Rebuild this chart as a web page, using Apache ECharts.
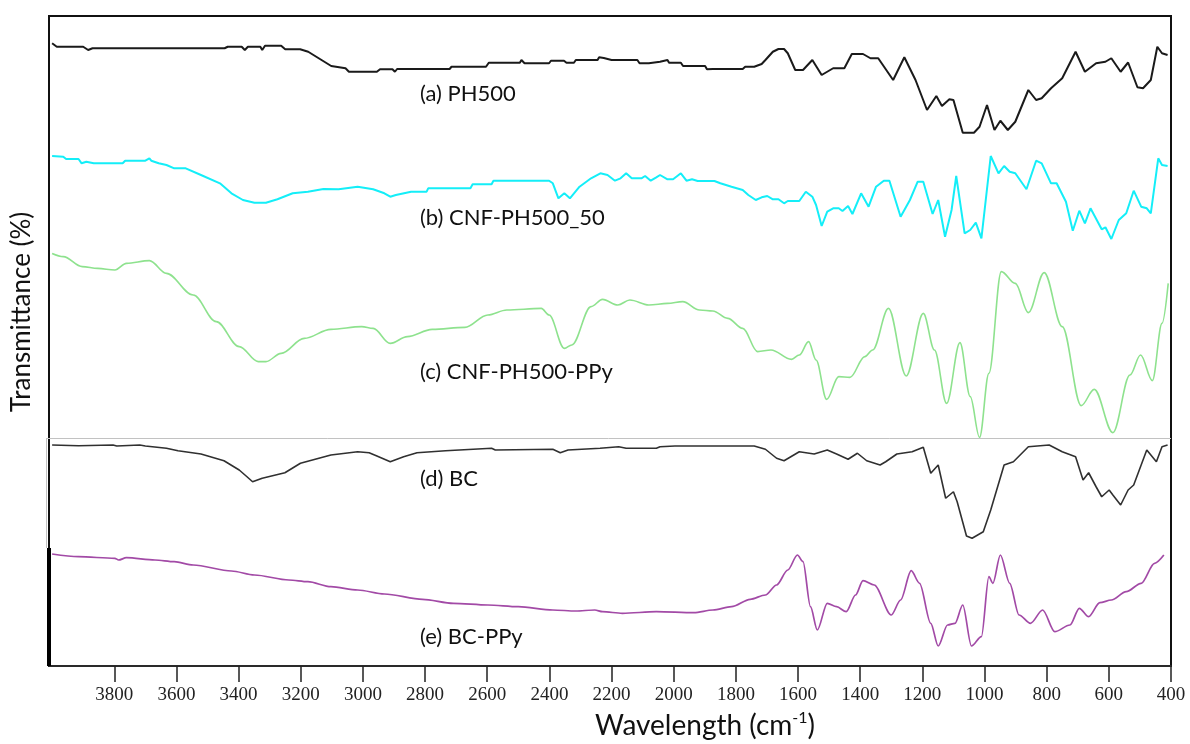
<!DOCTYPE html>
<html>
<head>
<meta charset="utf-8">
<script src="https://cdn.jsdelivr.net/npm/echarts@6/dist/echarts.min.js"></script>
<style>
  html, body { margin: 0; padding: 0; background: #ffffff; }
  #chart { width: 1190px; height: 744px; }
</style>
</head>
<body>
<div id="chart"></div>
<script>
// Wavenumber ticks shown on the bottom axis (cm-1)
const tickValues = [3800, 3600, 3400, 3200, 3000, 2800, 2600, 2400, 2200, 2000, 1800, 1600, 1400, 1200, 1000, 800, 600, 400];

// FTIR spectra: [wavenumber (cm-1), transmittance (%, per-trace scale)]
const ph500 = [[4000,89.4],[3985,86.6],[3900,86.6],[3884,84],[3870,85.4],[3445,85.4],[3435,86.6],[3390,86.6],[3380,84],[3370,86.6],[3330,86.6],[3324,84],[3315,87.4],[3263,87.4],[3250,84.6],[3202,84.6],[3176,82.6],[3102,71.2],[3056,69.4],[3045,66.6],[2955,66.6],[2945,68.6],[2905,68.6],[2897,66.6],[2890,68.8],[2721,68.8],[2715,70.6],[2604,70.6],[2595,73.8],[2495,73.8],[2490,76],[2480,73.4],[2401,73.4],[2395,75.4],[2353,75.4],[2345,73.8],[2321,73.8],[2315,76],[2245,76],[2240,78.2],[2225,77.6],[2200,76],[2117,76],[2110,73.4],[2080,73.4],[2075,74.6],[2044,74.6],[2040,76],[2020,76],[2015,73.8],[1977,73.8],[1970,71.2],[1899,71.2],[1893,68.6],[1874,68.8],[1778,68.8],[1770,70.6],[1741,70.6],[1717,72.8],[1705,76],[1681,82.6],[1663,84.8],[1645,84.8],[1633,81.4],[1609,68],[1584,68],[1578,66.6],[1554,76],[1524,64],[1487,69.4],[1451,69.4],[1427,80.8],[1391,80.8],[1367,77.4],[1342,77.4],[1294,60],[1258,78.2],[1222,60],[1185,36],[1155,47.2],[1137,39.2],[1113,44.6],[1100,44],[1070,17.8],[1034,17.8],[1016,22.6],[992,40],[968,20],[949,27.4],[925,20],[901,26.6],[859,52],[834,44],[816,45.4],[786,53.4],[750,61.4],[707,82.6],[677,66.6],[641,73.4],[611,74.6],[592,77.4],[562,66.6],[538,74],[508,54.2],[490,53.4],[465,60],[444,86.6],[429,81.4],[411,80]];

const cnfPh500 = [[4000,94],[3964,93.3],[3955,91],[3915,91],[3905,86.7],[3890,88.3],[3866,86.7],[3773,86.7],[3765,89.3],[3700,89.3],[3687,91.7],[3681,89.3],[3657,86.7],[3632,85],[3607,81.7],[3570,81.7],[3521,75],[3460,66.7],[3423,56.7],[3386,50],[3349,47.3],[3312,47.3],[3275,50.7],[3226,56.7],[3177,58.3],[3127,61],[3078,60.7],[3017,63.3],[2967,60.7],[2931,56.7],[2912,53.3],[2894,55],[2845,58.3],[2795,58.3],[2790,61.7],[2654,61.7],[2647,65.7],[2586,65.7],[2580,69.3],[2401,69.3],[2389,66.7],[2371,51.7],[2352,56.7],[2334,51.7],[2303,63.3],[2266,71.7],[2236,76.7],[2213,75],[2189,69.3],[2171,71.7],[2153,76.7],[2135,71.7],[2104,71.7],[2092,74],[2074,69.3],[2056,72.7],[2044,75],[2020,70.7],[2002,70.7],[1977,76.7],[1959,69.3],[1941,70.7],[1923,69],[1869,69],[1850,66.7],[1814,63.3],[1778,60],[1760,55],[1736,50],[1717,52.7],[1699,54],[1681,50.7],[1663,50.7],[1645,46.7],[1633,49],[1596,49],[1575,58.3],[1554,53.3],[1542,45],[1524,24],[1506,38.3],[1487,41.7],[1469,41.7],[1457,39],[1439,44],[1425,36],[1397,56.7],[1373,43.3],[1349,63.3],[1324,69.3],[1306,69.3],[1270,33.3],[1240,50],[1215,68.3],[1197,68.3],[1167,36],[1149,50],[1127,13.3],[1106,40],[1091,74],[1064,16.7],[1046,20],[1028,27.3],[1010,11.7],[980,94],[955,76.7],[937,84],[919,78.3],[901,76.7],[865,60.7],[834,89.3],[816,86.7],[786,66.7],[768,66.7],[738,48.3],[716,19.3],[695,39.3],[677,26.7],[659,41.7],[623,20.7],[611,22.7],[592,11],[568,30],[544,36.7],[520,59.3],[496,43.3],[478,41.7],[465,36.7],[441,91.7],[429,85],[411,84]];

const cnfPh500PPy = [[4000,98.3],[3964,96.7],[3903,91.7],[3853,90.8],[3798,90],[3761,93.3],[3687,94.7],[3632,88.3],[3546,77.5],[3472,64.2],[3398,51.7],[3337,44.2],[3312,44.2],[3263,48.3],[3189,55.8],[3103,60.3],[3004,61.7],[2967,60.8],[2912,53.3],[2857,56.7],[2777,60.3],[2672,61.3],[2598,67.5],[2537,70],[2426,70.8],[2401,67.5],[2352,50.8],[2328,52.5],[2266,71.7],[2229,75.3],[2180,72.5],[2141,75],[2080,72.5],[2020,73.3],[1971,74.2],[1917,70],[1874,69.5],[1826,65.8],[1778,60.8],[1730,49.2],[1687,50],[1621,45.3],[1596,47.5],[1566,54.2],[1542,45],[1508,25.3],[1469,36.7],[1433,36.3],[1385,46.7],[1360,50],[1309,70.8],[1252,37],[1197,68.3],[1161,50],[1122,23.3],[1079,53.7],[1046,26.7],[1016,6.3],[986,38.3],[946,89.2],[901,83.3],[859,68.7],[808,88.7],[750,61.7],[689,22.2],[647,30.3],[587,8.7],[532,37.5],[498,47.5],[460,34.7],[429,63.3],[409,83.3]];

const bc = [[4000,96],[3915,95.4],[3804,96],[3792,95.2],[3718,96],[3700,95.2],[3632,93.4],[3595,91.4],[3521,88.8],[3447,83.4],[3398,76],[3373,70.6],[3355,66.6],[3324,69.4],[3251,73.8],[3201,81.4],[3103,88],[3017,90.6],[2980,89.8],[2955,87.2],[2912,82.6],[2869,86.6],[2826,89.8],[2734,91.4],[2586,93.4],[2574,92],[2389,92.6],[2365,89.8],[2340,92],[2237,93.4],[2177,94.6],[2153,93.4],[2056,93.4],[2044,94.6],[1996,95.2],[1741,95.2],[1705,92.6],[1669,85.4],[1645,83.4],[1596,90.6],[1548,88.8],[1506,92],[1476,88.8],[1439,84.6],[1409,89.4],[1379,83.4],[1336,80],[1318,82.6],[1282,88.8],[1233,90.6],[1197,94.2],[1173,73.4],[1149,80],[1125,53.4],[1100,58.6],[1088,50.6],[1058,23.2],[1040,21.4],[1004,26.6],[980,44],[937,80],[907,82.6],[859,94.6],[792,96],[750,90.6],[707,86.6],[683,68],[665,73.8],[641,62.6],[623,54.6],[599,60],[587,56],[562,48],[538,60],[520,64],[478,92],[447,82.6],[429,94.6],[411,96]];

const bcPPy = [[4000,96],[3915,93.3],[3798,91.7],[3786,90],[3761,92.3],[3669,90],[3607,88.3],[3546,85],[3423,79],[3349,75],[3238,70],[3177,68.3],[3103,63.3],[3017,60],[2931,56],[2808,50.7],[2709,46.7],[2598,45],[2500,43.3],[2389,40],[2315,39],[2254,40],[2229,38.3],[2165,36.7],[2056,38.3],[1935,37.3],[1874,40],[1814,43.3],[1754,50.7],[1705,55],[1669,65],[1633,80],[1602,95],[1584,88.3],[1560,43.3],[1538,20],[1506,46.7],[1476,43.3],[1445,38.3],[1415,55],[1391,69.3],[1355,65],[1300,35],[1270,50],[1236,79.3],[1209,66.7],[1173,26.7],[1149,4],[1119,25],[1095,26.7],[1070,45],[1042,4],[1010,13.3],[986,73.3],[973,66.7],[949,95],[919,66.7],[889,35],[852,26.7],[813,40],[774,18.3],[725,25],[695,41.7],[665,33.3],[629,47.3],[592,50],[544,58.3],[496,66.7],[453,86.7],[423,95]];

const traceNames = ['(a) PH500', '(b) CNF-PH500_50', '(c) CNF-PH500-PPy', '(d) BC', '(e) BC-PPy'];
const traceData = [ph500, cnfPh500, cnfPh500PPy, bc, bcPPy];

// Stacked panel layout and line styles, one entry per trace
const panels = [
  { top: 30,  height: 125, color: '#1a1a1a', width: 2,   smooth: false, labelY: 94 },
  { top: 150, height: 100, color: '#14eef8', width: 2,   smooth: false, labelY: 218 },
  { top: 250, height: 200, color: '#8ee28e', width: 1.6, smooth: 0.35,  labelY: 372 },
  { top: 440, height: 125, color: '#303030', width: 1.6, smooth: false, labelY: 479 },
  { top: 550, height: 100, color: '#a24aa6', width: 1.7, smooth: 0.3,   labelY: 637 }
];

const X_MIN = 400, X_MAX = 4010;
const PLOT_LEFT = 49, PLOT_RIGHT = 19;
const labelFont = 'Lato, "Open Sans", sans-serif';

const grids = [{ left: PLOT_LEFT, right: PLOT_RIGHT, top: 16, bottom: 78, show: true,
  borderColor: '#111', borderWidth: 2, backgroundColor: 'transparent' }];
const xAxes = [{
  gridIndex: 0, type: 'value', inverse: true, min: X_MIN, max: X_MAX,
  axisLine: { show: true, onZero: false, lineStyle: { color: '#333', width: 1.5 } },
  axisTick: { show: true, inside: false, length: 16, customValues: tickValues,
    lineStyle: { color: '#222', width: 1.5 } },
  axisLabel: { margin: 20, customValues: tickValues, fontFamily: '"Liberation Serif", serif',
    fontSize: 19, color: '#222', formatter: v => String(v) },
  splitLine: { show: false }
}];
const yAxes = [{ gridIndex: 0, type: 'value', min: 0, max: 1, show: false }];
const series = [];

panels.forEach((p, i) => {
  grids.push({ left: PLOT_LEFT, right: PLOT_RIGHT, top: p.top, height: p.height });
  xAxes.push({ gridIndex: i + 1, type: 'value', inverse: true, min: X_MIN, max: X_MAX, show: false });
  yAxes.push({ gridIndex: i + 1, type: 'value', min: 0, max: 100, show: false });
  series.push({
    name: traceNames[i], type: 'line', xAxisIndex: i + 1, yAxisIndex: i + 1,
    data: traceData[i], symbol: 'none', smooth: p.smooth, smoothMonotone: 'x',
    lineStyle: { color: p.color, width: p.width }, silent: true, clip: false
  });
});

const graphics = [
  // heavier left edge on the lowest panel
  { type: 'line', shape: { x1: 49, y1: 548, x2: 49, y2: 666 }, style: { stroke: '#000', lineWidth: 4 }, z: 10 },
  // thin separator framing the BC trace
  { type: 'line', shape: { x1: 46, y1: 438.5, x2: 1171, y2: 438.5 }, style: { stroke: '#c2c2c2', lineWidth: 1 }, z: 9 },
  { type: 'line', shape: { x1: 46.5, y1: 438, x2: 46.5, y2: 548 }, style: { stroke: '#c2c2c2', lineWidth: 1 }, z: 9 },
  // axis titles
  { type: 'text', x: 22, y: 312, rotation: Math.PI / 2,
    style: { text: 'Transmittance (%)', font: '26px ' + labelFont, fill: '#111', align: 'center', verticalAlign: 'middle' } },
  { type: 'text', x: 705, y: 726,
    style: { text: '{a|Wavelength (cm}{s|-1}{a|)}', align: 'center', verticalAlign: 'middle',
      rich: {
        a: { fontFamily: labelFont, fontSize: 28, fill: '#111', lineHeight: 32 },
        s: { fontFamily: labelFont, fontSize: 16, fill: '#111', verticalAlign: 'top', lineHeight: 32, padding: [0, 0, 12, 0] }
      } } }
];
panels.forEach((p, i) => {
  graphics.push({ type: 'text', x: 420, y: p.labelY,
    style: { text: traceNames[i], font: '22px ' + labelFont, fill: '#111', verticalAlign: 'middle' } });
});

const chart = echarts.init(document.getElementById('chart'), null, { renderer: 'canvas' });
chart.setOption({
  animation: false,
  backgroundColor: '#ffffff',
  grid: grids,
  xAxis: xAxes,
  yAxis: yAxes,
  series: series,
  graphic: graphics
});
</script>
</body>
</html>
